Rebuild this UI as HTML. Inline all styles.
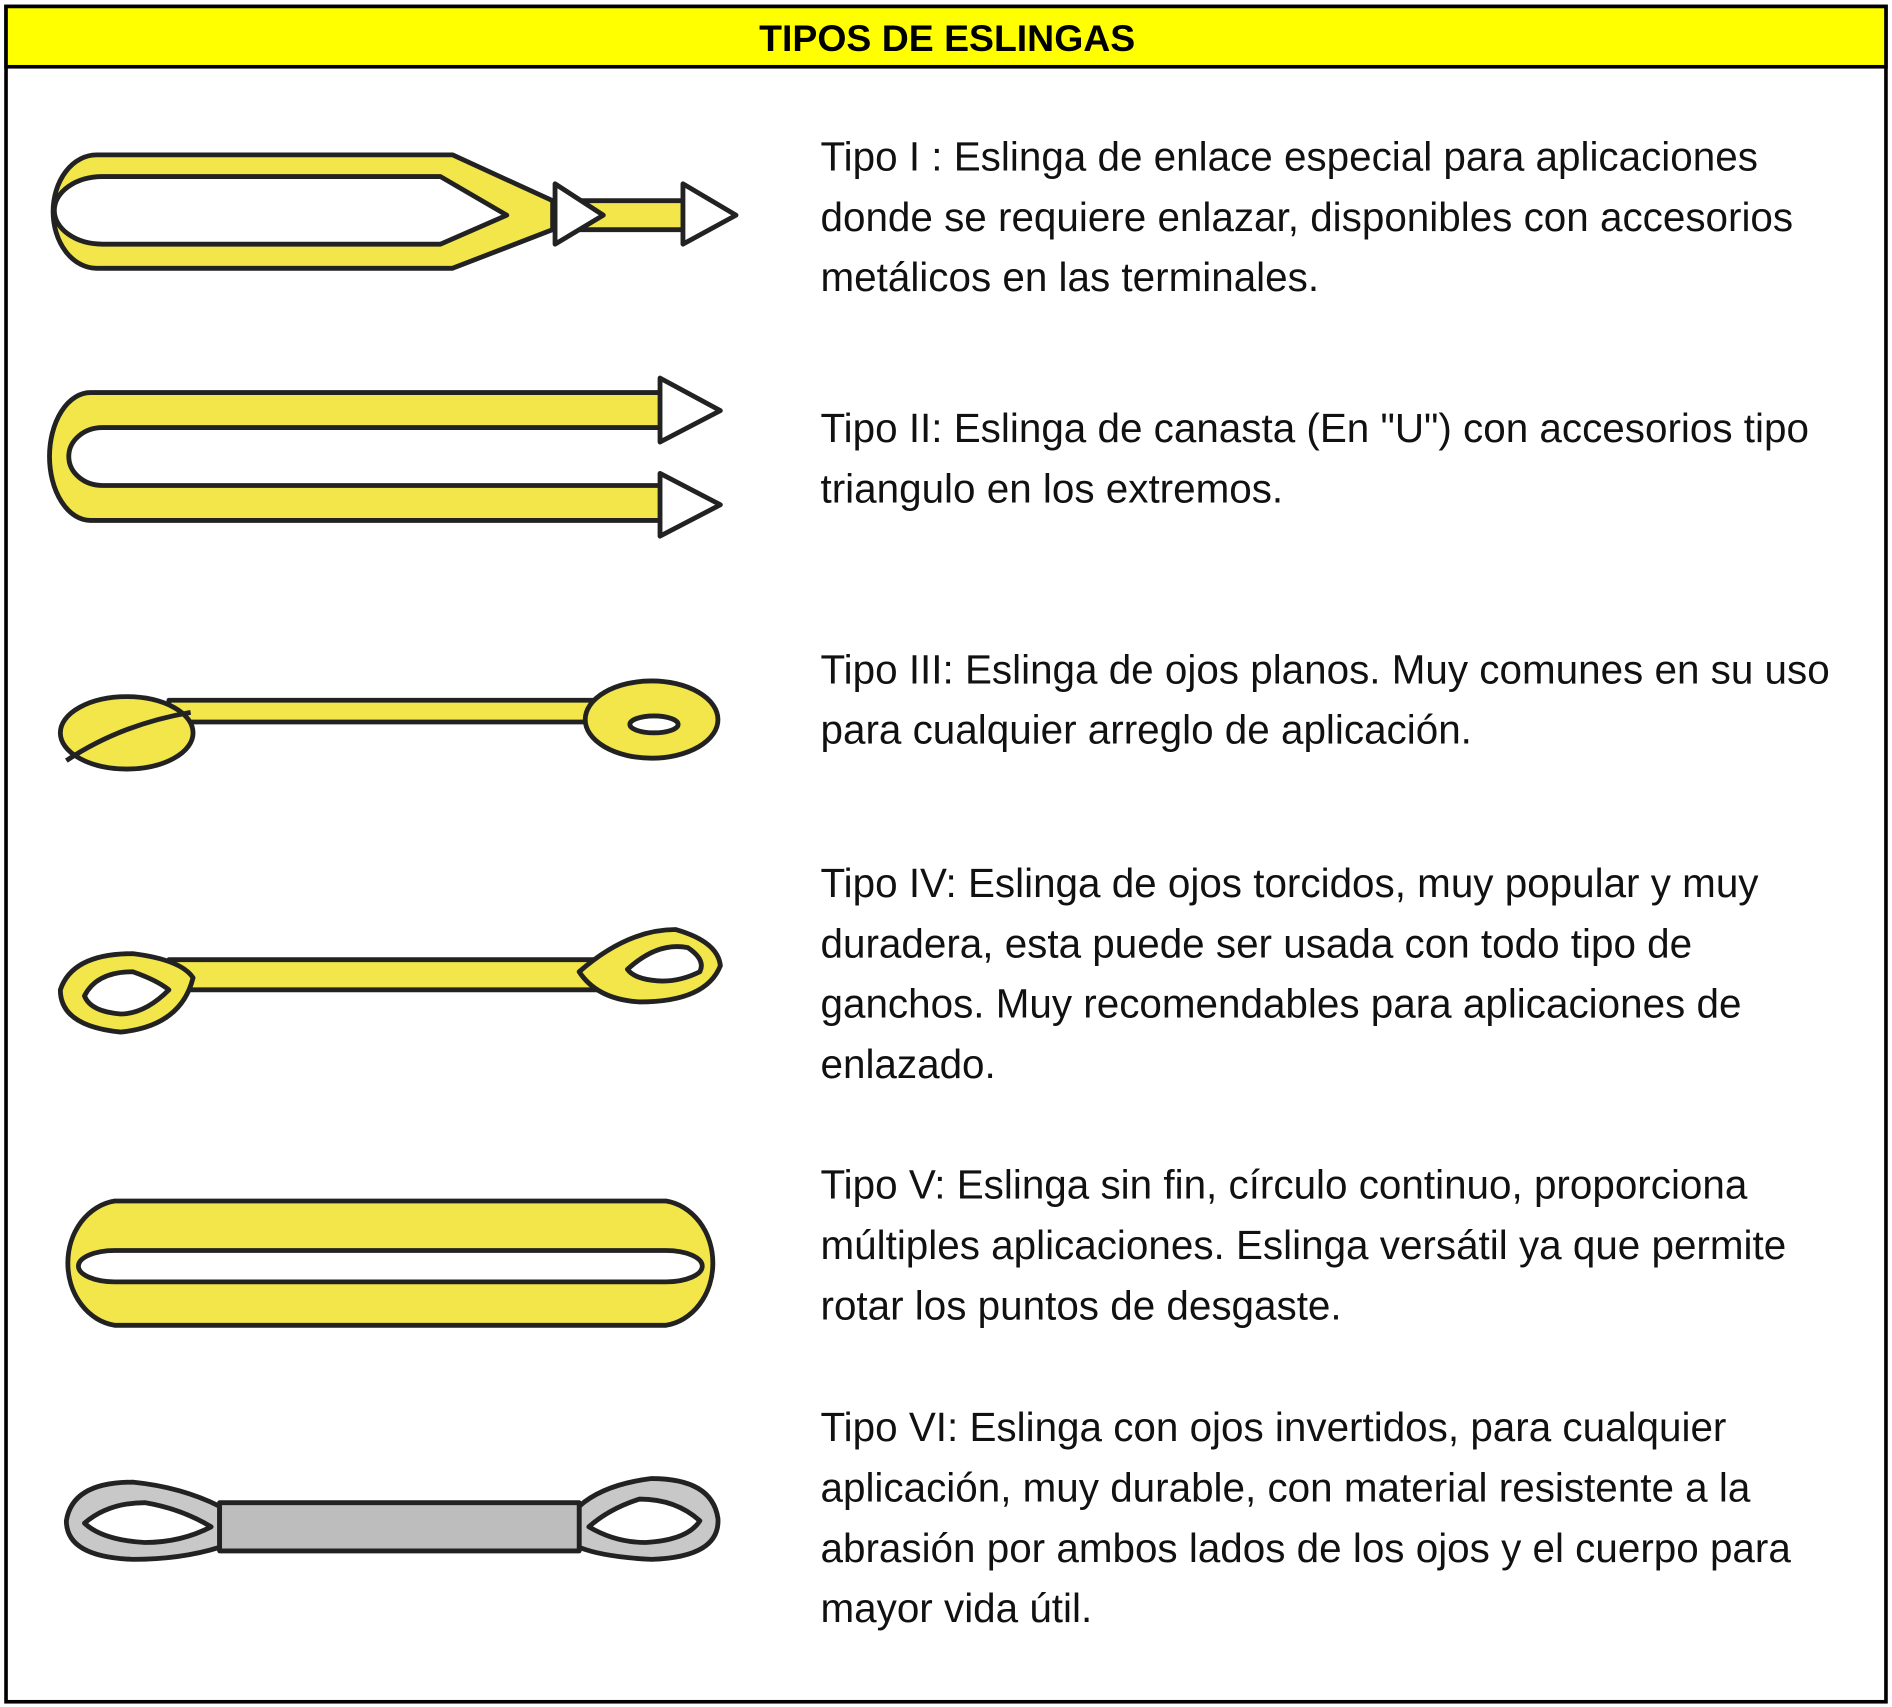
<!DOCTYPE html>
<html><head><meta charset="utf-8"><style>
html,body{margin:0;padding:0;background:#fff;}
svg{display:block;}
text{font-family:"Liberation Sans",sans-serif;}
</style></head><body>
<svg width="1892" height="1707" viewBox="0 0 1568 1414" xmlns="http://www.w3.org/2000/svg">
<rect x="5" y="5" width="1558" height="1405" fill="#fff" stroke="#000" stroke-width="3"/>
<rect x="5" y="5" width="1558" height="50" fill="#ffff00" stroke="#000" stroke-width="3"/>
<text x="785" y="42" text-anchor="middle" font-size="31" font-weight="bold">TIPOS DE ESLINGAS</text>

<g fill="#f2e64a" stroke="#222" stroke-width="4" stroke-linejoin="round">
<path fill-rule="evenodd" d="M80,128 L375,128 L458,166 L458,190 L375,222 L80,222 A36,47 0 0 1 80,128 Z M85,146 L365,146 L420,178 L365,202 L85,202 A40,28 0 0 1 85,146 Z"/>
<rect x="460" y="166" width="110" height="24"/>
<path d="M460,152 L500,178 L460,202 Z" fill="#fff"/>
<path d="M566,152 L610,178 L566,202 Z" fill="#fff"/>
<path d="M550,325 L75,325 A34,53 0 0 0 75,431 L550,431 L550,402 L85,402 A28,24 0 0 1 85,354 L550,354 Z"/>
<path d="M547,313 L597,340 L547,366 Z" fill="#fff"/>
<path d="M547,392 L597,418 L547,444 Z" fill="#fff"/>
<rect x="140" y="580" width="360" height="18"/>
<ellipse cx="105" cy="607" rx="55" ry="30"/>
<path d="M55,630 Q100,600 158,590" fill="none"/>
<ellipse cx="540" cy="596" rx="55" ry="32"/>
<ellipse cx="542" cy="600" rx="20" ry="7" fill="#fff"/>
<rect x="140" y="795" width="360" height="25"/>
<path fill-rule="evenodd" d="M50,820 Q60,790 110,790 Q150,795 160,810 Q150,850 100,855 Q50,850 50,820 Z M70,825 Q80,805 110,805 Q130,812 140,820 Q120,840 100,840 Q75,838 70,825 Z"/>
<path fill-rule="evenodd" d="M480,805 Q520,770 560,770 Q595,780 597,800 Q585,830 530,830 Q495,828 480,805 Z M520,803 Q545,780 570,785 Q585,795 580,805 Q560,815 540,812 Q525,810 520,803 Z"/>
<path fill-rule="evenodd" d="M95,995 L552,995 A45,52 0 0 1 552,1098 L95,1098 A45,52 0 0 1 95,995 Z M95,1036 L552,1036 A30,13 0 0 1 552,1062 L95,1062 A30,13 0 0 1 95,1036 Z"/>
</g>
<g stroke="#222" stroke-width="4" stroke-linejoin="round">
<path fill-rule="evenodd" fill="#c8c8c8" d="M55,1260 Q60,1228 110,1228 Q150,1232 182,1248 L182,1282 Q150,1292 110,1292 Q55,1290 55,1260 Z M70,1262 Q90,1245 120,1245 Q150,1250 175,1265 Q150,1278 120,1278 Q85,1276 70,1262 Z"/>
<path fill-rule="evenodd" fill="#c8c8c8" d="M595,1258 Q590,1225 540,1225 Q500,1230 480,1248 L480,1282 Q500,1290 540,1292 Q597,1290 595,1258 Z M580,1260 Q560,1242 530,1242 Q505,1250 488,1265 Q510,1278 535,1278 Q570,1276 580,1260 Z"/>
<rect x="182" y="1245" width="298" height="40" fill="#bdbdbd"/>
</g>

<g font-size="33.5" fill="#111">
<text x="680" y="141">Tipo I : Eslinga de enlace especial para aplicaciones</text>
<text x="680" y="191">donde se requiere enlazar, disponibles con accesorios</text>
<text x="680" y="241">metálicos en las terminales.</text>
<text x="680" y="366">Tipo II: Eslinga de canasta (En "U")  con accesorios tipo</text>
<text x="680" y="416">triangulo en los extremos.</text>
<text x="680" y="566">Tipo III: Eslinga de ojos planos. Muy comunes en su uso</text>
<text x="680" y="616">para cualquier arreglo de aplicación.</text>
<text x="680" y="743">Tipo IV: Eslinga de ojos torcidos, muy popular y muy</text>
<text x="680" y="793">duradera, esta puede ser usada con todo tipo de</text>
<text x="680" y="843">ganchos. Muy recomendables para aplicaciones de</text>
<text x="680" y="893">enlazado.</text>
<text x="680" y="993">Tipo V: Eslinga sin fin, círculo continuo, proporciona</text>
<text x="680" y="1043">múltiples aplicaciones. Eslinga versátil ya que permite</text>
<text x="680" y="1093">rotar los puntos de desgaste.</text>
<text x="680" y="1194">Tipo VI: Eslinga con ojos invertidos, para cualquier</text>
<text x="680" y="1244">aplicación, muy durable, con material resistente a la</text>
<text x="680" y="1294">abrasión por ambos lados de los ojos y el cuerpo para</text>
<text x="680" y="1344">mayor vida útil.</text>
</g>
</svg>
</body></html>
